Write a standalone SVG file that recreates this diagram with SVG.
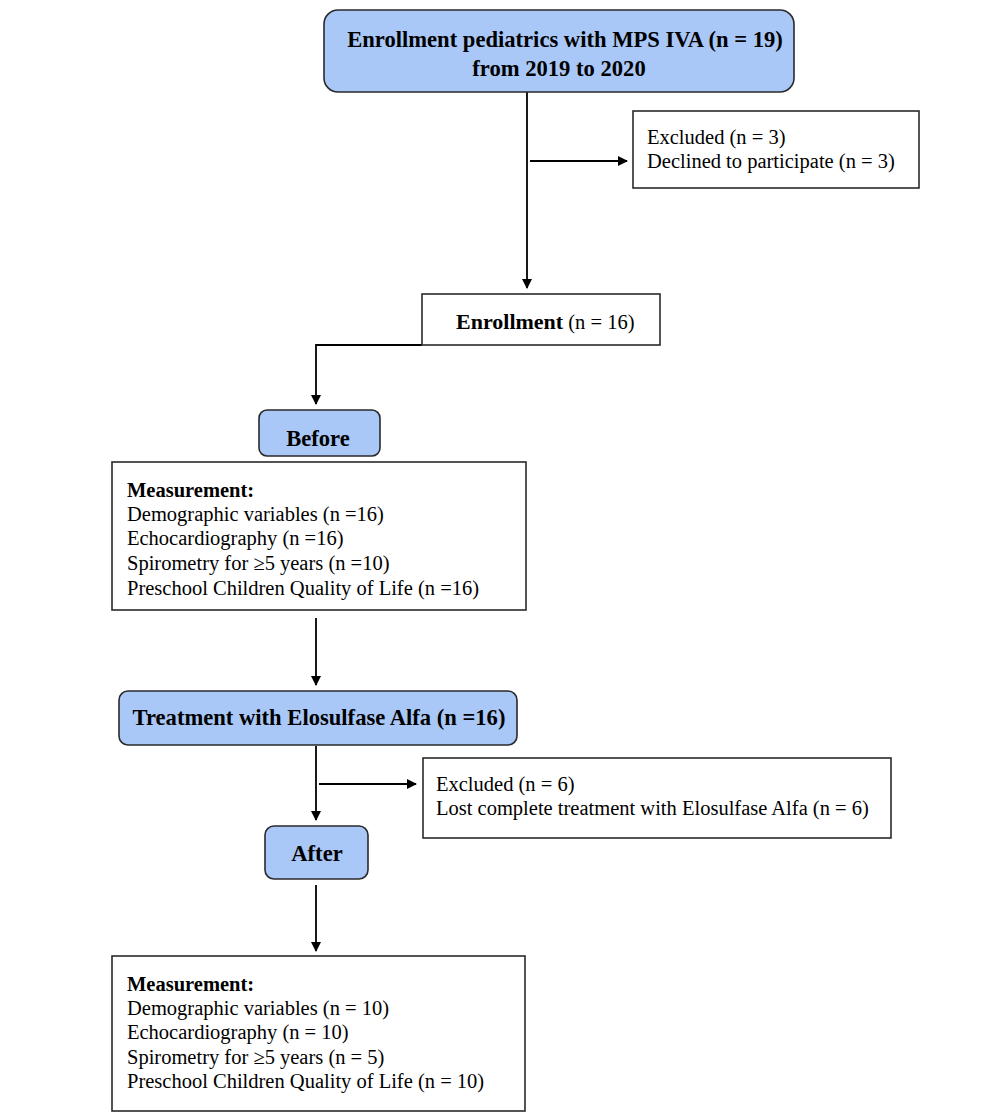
<svg xmlns="http://www.w3.org/2000/svg" width="1000" height="1116" viewBox="0 0 1000 1116">
<style>
.blue{fill:#a9c8f8;stroke:#2a2a2a;stroke-width:1.6}
.box{fill:#fff;stroke:#2a2a2a;stroke-width:1.6}
.t{font-family:"Liberation Serif","Times New Roman",serif;font-size:20.5px;fill:#000}
.b{font-weight:bold}
.big{font-size:22.6px}
.c{text-anchor:middle}
.ln{stroke:#000;stroke-width:1.8;fill:none}
</style>
<defs>
<marker id="ah" markerWidth="10" markerHeight="10" refX="9" refY="5" orient="auto" markerUnits="userSpaceOnUse">
<path d="M0,0 L10,5 L0,10 z" fill="#000"/>
</marker>
</defs>
<rect width="1000" height="1116" fill="#fff"/>
<g id="connectors">
<line class="ln" x1="527" y1="92" x2="527" y2="288" marker-end="url(#ah)"/>
<line class="ln" x1="530" y1="161" x2="627" y2="161" marker-end="url(#ah)"/>
<polyline class="ln" points="422,345 316,345 316,404" marker-end="url(#ah)"/>
<line class="ln" x1="316" y1="618" x2="316" y2="685" marker-end="url(#ah)"/>
<line class="ln" x1="316" y1="746" x2="316" y2="820" marker-end="url(#ah)"/>
<line class="ln" x1="319" y1="784" x2="416" y2="784" marker-end="url(#ah)"/>
<line class="ln" x1="316" y1="885" x2="316" y2="951" marker-end="url(#ah)"/>
</g>
<g id="enroll19">
<rect class="blue" x="324" y="10" width="470" height="82" rx="14"/>
<text class="t b big c" x="565" y="47">Enrollment pediatrics with MPS IVA (n = 19)</text>
<text class="t b big c" x="559" y="76">from 2019 to 2020</text>
</g>
<g id="excluded3">
<rect class="box" x="633" y="111" width="286" height="77"/>
<text class="t" x="647" y="144">Excluded (n = 3)</text>
<text class="t" x="647" y="168">Declined to participate (n = 3)</text>
</g>
<g id="enroll16">
<rect class="box" x="422" y="294" width="238" height="51"/>
<text class="t" x="456" y="329"><tspan class="b" font-size="22">Enrollment</tspan> (n = 16)</text>
</g>
<g id="before">
<rect class="blue" x="259" y="410" width="121" height="46" rx="8"/>
<text class="t b big c" x="318" y="446">Before</text>
</g>
<g id="measure1">
<rect class="box" x="112" y="462" width="414" height="148"/>
<text class="t b" x="127" y="497">Measurement:</text>
<text class="t" x="127" y="521">Demographic variables (n =16)</text>
<text class="t" x="127" y="545">Echocardiography (n =16)</text>
<text class="t" x="127" y="570">Spirometry for ≥5 years (n =10)</text>
<text class="t" x="127" y="595">Preschool Children Quality of Life (n =16)</text>
</g>
<g id="treatment">
<rect class="blue" x="119" y="691" width="398" height="54" rx="9"/>
<text class="t b big c" x="319" y="725">Treatment with Elosulfase Alfa (n =16)</text>
</g>
<g id="excluded6">
<rect class="box" x="423" y="758" width="468" height="80"/>
<text class="t" x="436" y="791">Excluded (n = 6)</text>
<text class="t" x="436" y="815">Lost complete treatment with Elosulfase Alfa (n = 6)</text>
</g>
<g id="after">
<rect class="blue" x="265" y="826" width="103" height="53" rx="9"/>
<text class="t b big c" x="317" y="861">After</text>
</g>
<g id="measure2">
<rect class="box" x="112" y="956" width="413" height="155"/>
<text class="t b" x="127" y="991">Measurement:</text>
<text class="t" x="127" y="1015">Demographic variables (n = 10)</text>
<text class="t" x="127" y="1039">Echocardiography (n = 10)</text>
<text class="t" x="127" y="1064">Spirometry for ≥5 years (n = 5)</text>
<text class="t" x="127" y="1088">Preschool Children Quality of Life (n = 10)</text>
</g>
</svg>
